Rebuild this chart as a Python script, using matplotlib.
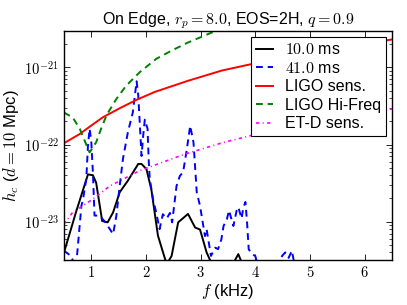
"""Characteristic strain spectrum, on-edge case (r_p = 8.0, EOS = 2H, q = 0.9)."""

import matplotlib

matplotlib.use("Agg")
import matplotlib.pyplot as plt  # noqa: E402
from matplotlib.ticker import FixedLocator, FuncFormatter, NullFormatter  # noqa: E402

plt.rcParams["font.family"] = ["Liberation Sans", "DejaVu Sans"]
plt.rcParams["mathtext.fontset"] = "cm"

# --------------------------------------------------------------------------- #
# Data (f in kHz, h_c at d = 10 Mpc)
# --------------------------------------------------------------------------- #
f_10ms = [0.50, 0.52, 0.72, 0.94, 1.03, 1.09, 1.20, 1.30, 1.40, 1.52, 1.67,
          1.86, 1.92, 2.01, 2.10, 2.22, 2.38, 2.47, 2.59, 2.77, 2.90, 2.99,
          3.11, 3.30, 3.55, 3.69, 3.85, 4.20, 5.00, 6.50]
h_10ms = [3.9e-24, 4.4e-24, 1.32e-23, 4.1e-23, 4.0e-23, 3.2e-23, 1.02e-23,
          9.8e-24, 1.32e-23, 2.4e-23, 3.4e-23, 5.6e-23, 5.6e-23, 4.8e-23,
          2.6e-23, 6.6e-24, 2.8e-24, 3.6e-24, 9.8e-24, 1.26e-23, 8.4e-24,
          7.9e-24, 4.0e-24, 2.0e-24, 2.5e-24, 3.8e-24, 2.0e-24, 1.5e-24,
          1.2e-24, 1.0e-24]

f_41ms = [0.50, 0.63, 0.72, 0.82, 0.85, 0.91, 0.94, 0.97, 1.00, 1.03, 1.06,
          1.15, 1.25, 1.40, 1.46, 1.52, 1.58, 1.67, 1.76, 1.83, 1.86, 1.89,
          1.92, 1.95, 1.98, 2.03, 2.05, 2.07, 2.13, 2.19, 2.25, 2.31, 2.38,
          2.44, 2.48, 2.56, 2.62, 2.68, 2.74, 2.81, 2.87, 2.93, 2.99, 3.08,
          3.11, 3.19, 3.27, 3.32, 3.38, 3.42, 3.48, 3.52, 3.60, 3.66, 3.69,
          3.75, 3.78, 3.82, 3.85, 3.88, 3.94, 4.00, 4.10, 4.40, 4.49, 4.55,
          4.61, 4.67, 4.73, 5.00, 6.50]
h_41ms = [4.2e-24, 3.6e-24, 2.5e-24, 1.6e-23, 1.96e-23, 3.6e-23, 9.6e-23,
          1.6e-22, 1.12e-22, 4.4e-23, 1.2e-23, 1.2e-23, 1.0e-23, 6.9e-24,
          1.2e-23, 2.9e-23, 6.5e-23, 1.44e-22, 2.6e-22, 6.6e-22, 4.3e-22,
          1.75e-22, 7.1e-23, 1.3e-22, 2.1e-22, 1.6e-22, 6.5e-23, 3.6e-23,
          1.96e-23, 1.3e-23, 8.0e-24, 1.25e-23, 1.1e-23, 1.3e-23, 9.8e-24,
          2.9e-23, 3.9e-23, 4.4e-23, 7.9e-23, 1.75e-22, 1.07e-22, 2.4e-23,
          1.6e-23, 6.5e-24, 8.0e-24, 3.6e-24, 4.6e-24, 4.4e-24, 5.9e-24,
          8.8e-24, 1.07e-23, 1.4e-23, 8.8e-24, 1.4e-23, 1.54e-23, 1.1e-23,
          1.5e-23, 1.8e-23, 9.8e-24, 4.4e-24, 3.8e-24, 3.6e-24, 2.0e-24,
          2.0e-24, 3.6e-24, 4.0e-24, 3.4e-24, 4.2e-24, 2.5e-24, 1.5e-24,
          1.0e-24]

f_ligo = [0.50, 0.79, 0.97, 1.21, 1.52, 1.83, 2.16, 2.77, 3.39, 4.00, 5.00,
          6.00, 6.50]
h_ligo = [1.04e-22, 1.37e-22, 1.7e-22, 2.25e-22, 2.95e-22, 3.8e-22, 4.8e-22,
          6.7e-22, 9.1e-22, 1.13e-21, 1.55e-21, 2.0e-21, 2.3e-21]

f_hifreq = [0.50, 0.66, 0.79, 0.88, 0.97, 1.09, 1.18, 1.28, 1.46, 1.64, 1.89,
            2.19, 2.47, 2.77, 3.29, 3.60]
h_hifreq = [2.6e-22, 2.25e-22, 1.6e-22, 1.12e-22, 7.9e-23, 1.07e-22, 1.6e-22,
            2.4e-22, 3.9e-22, 5.8e-22, 8.7e-22, 1.29e-21, 1.65e-21, 2.1e-21,
            3.0e-21, 3.6e-21]

f_etd = [0.50, 0.66, 1.00, 1.34, 1.89, 2.71, 3.39, 4.00, 5.00, 6.00, 6.50]
h_etd = [9.3e-24, 1.32e-23, 1.9e-23, 2.9e-23, 4.6e-23, 7.5e-23, 1.05e-22,
         1.35e-22, 1.9e-22, 2.5e-22, 2.9e-22]

X_TICKS = [1, 2, 3, 4, 5, 6]
Y_EXPONENTS = [-23, -22, -21]

# --------------------------------------------------------------------------- #
# Figure
# --------------------------------------------------------------------------- #
fig = plt.figure(figsize=(4.07, 3.05), dpi=100)
ax = fig.add_axes([0.157, 0.148, 0.806, 0.750])

ax.plot(f_10ms, h_10ms, color="black", lw=1.4, label="$10.0$ ms")
ax.plot(f_41ms, h_41ms, color="blue", lw=1.4, ls=(0, (3.5, 2.5)), label="$41.0$ ms")
ax.plot(f_ligo, h_ligo, color="red", lw=1.4, label="LIGO sens.")
ax.plot(f_hifreq, h_hifreq, color="green", lw=1.4, ls=(0, (3.5, 2.5)), label="LIGO Hi-Freq")
ax.plot(f_etd, h_etd, color="magenta", lw=1.2, ls=(0, (2, 2, 0.6, 2)), label="ET-D sens.")

ax.set_yscale("log")
ax.set_xlim(0.5, 6.5)
ax.set_ylim(3.2e-24, 2.95e-21)

ax.xaxis.set_major_locator(FixedLocator(X_TICKS))
ax.xaxis.set_major_formatter(FuncFormatter(lambda v, p: f"${v:g}$"))

# décadas visíveis + subdivisões 2..9 dentro da janela
major_y = [10.0 ** e for e in Y_EXPONENTS]
minor_y = [m * 10.0 ** e for e in [-24] + Y_EXPONENTS for m in range(2, 10)
           if 3.2e-24 <= m * 10.0 ** e <= 2.95e-21]
ax.yaxis.set_major_locator(FixedLocator(major_y))
ax.yaxis.set_minor_locator(FixedLocator(minor_y))
ax.yaxis.set_major_formatter(
    FuncFormatter(lambda v, p: f"$10^{{{Y_EXPONENTS[p]}}}$"))
ax.yaxis.set_minor_formatter(NullFormatter())
ax.tick_params(which="both", direction="in", top=True, right=True, labelsize=10.5)
ax.tick_params(which="major", length=4, width=0.6)
ax.tick_params(which="minor", length=2, width=0.5)
ax.tick_params(axis="x", pad=4)
for spine in ax.spines.values():
    spine.set_linewidth(1.0)

ax.set_xlabel("$f$ (kHz)", fontsize=12, labelpad=1)
ax.set_ylabel("$h_c$ ($d = 10$ Mpc)", fontsize=12, labelpad=2)
ax.set_title("On Edge, $r_p = 8.0$, EOS=2H, $q = 0.9$", fontsize=11.5, pad=4)

leg = ax.legend(loc="upper right", fontsize=11.5, handlelength=1.1,
                fancybox=False, framealpha=1, edgecolor="black",
                borderpad=0.3, labelspacing=0.22, handletextpad=0.7,
                borderaxespad=0.4)
leg.get_frame().set_linewidth(0.8)

fig.savefig("out.png", dpi=100)
